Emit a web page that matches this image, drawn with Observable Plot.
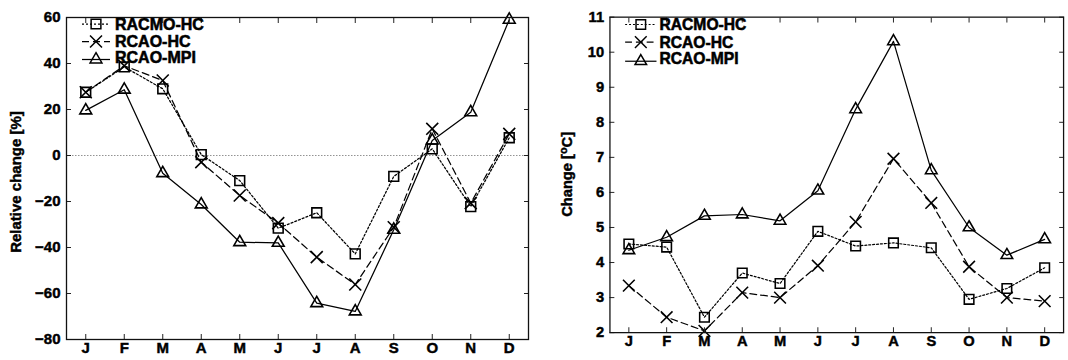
<!DOCTYPE html>
<html><head><meta charset="utf-8">
<script src="https://cdn.jsdelivr.net/npm/d3@7"></script>
<script src="https://cdn.jsdelivr.net/npm/@observablehq/plot@0.6"></script>
<style>
body{margin:0;background:#fff}
#wrap{position:relative;width:1068px;height:360px;overflow:hidden;background:#fff}
#left{position:absolute;left:0;top:0}
#right{position:absolute;left:534px;top:0}
#wrap text{stroke:#000;stroke-width:0.45px;font-weight:bold}
#wrap .legend text{stroke-width:0.55px}
</style></head><body>
<div id="wrap"><div id="left"></div><div id="right"></div></div>
<script>
// month labels
const months = ["J","F","M","A","M","J","J","A","S","O","N","D"];
const seriesNames = ["RACMO-HC","RCAO-HC","RCAO-MPI"];
// Relative precipitation change [%]
const racmoP   = [27.5, 38.5, 29.0,  0.4, -10.9, -31.6, -24.9, -42.8,  -9.1,  2.9, -22.2,  7.7];
const rcaoHcP  = [27.5, 39.0, 32.6, -2.9, -17.4, -29.4, -44.2, -56.1, -31.2, 11.6, -20.7,  9.4];
const rcaoMpiP = [19.6, 28.6, -7.7, -21.3, -37.7, -38.0, -64.2, -67.8, -32.3,  6.5,  18.8, 59.0];
// Temperature change [°C]
const racmoT   = [4.53, 4.44, 2.44, 3.70, 3.40, 4.89, 4.47, 4.56, 4.42, 2.95, 3.26, 3.85];
const rcaoHcT  = [3.34, 2.44, 2.05, 3.14, 3.00, 3.91, 5.16, 6.96, 5.70, 3.88, 3.00, 2.90];
const rcaoMpiT = [4.35, 4.72, 5.33, 5.37, 5.19, 6.05, 8.37, 10.31, 6.63, 5.00, 4.21, 4.66];
const yTicksP = [-80, -60, -40, -20, 0, 20, 40, 60];
const yTicksT = [2, 3, 4, 5, 6, 7, 8, 9, 10, 11];

const styles = [
  {symbol: "square",   r: 5.5, dash: "2,2"},
  {symbol: "times",    r: 5.5, dash: "7,4"},
  {symbol: "triangle", r: 4.4, dash: null}
];
const monthIdx = d3.range(1, 13);
const FONT = "'Liberation Sans', Arial, Helvetica, sans-serif";

function panel(el, {width, marginLeft, marginRight, yDomain, yTicks, values, zero, legend, ylabel}) {
  const data = values.flatMap((vals, k) => vals.map((v, i) => ({month: i + 1, value: v, k})));
  const marks = [];
  if (zero) marks.push(Plot.ruleY([0], {stroke: "#777", strokeWidth: 0.8, strokeDasharray: "1.5,1.5"}));
  values.forEach((vals, k) => {
    const d = data.filter(e => e.k === k);
    marks.push(Plot.line(d, {x: "month", y: "value", stroke: "black", strokeWidth: 1.25, strokeDasharray: styles[k].dash}));
    marks.push(Plot.dot(d, {x: "month", y: "value", symbol: styles[k].symbol, r: styles[k].r, stroke: "black", strokeWidth: 1.6, fill: "none"}));
  });
  marks.push(
    Plot.axisX({ticks: monthIdx, tickFormat: d => months[d - 1], tickSize: -5, tickPadding: 8, label: null, stroke: "#222", fontWeight: "bold", fontSize: 15}),
    Plot.axisX({anchor: "top", ticks: monthIdx, tickSize: -5, fill: "none", label: null, stroke: "#222"}),
    Plot.axisY({ticks: yTicks, tickSize: -5, tickPadding: 11, label: null, stroke: "#222", fontWeight: "bold", fontSize: 15}),
    Plot.axisY({anchor: "right", ticks: yTicks, tickSize: -5, fill: "none", label: null, stroke: "#222"}),
    Plot.frame({stroke: "#111", strokeWidth: 1.3})
  );
  const svg = Plot.plot({
    width, height: 360, marginLeft, marginRight, marginTop: 17, marginBottom: 21,
    x: {domain: [0.5, 12.5]},
    y: {domain: yDomain},
    style: {fontFamily: FONT, fontSize: "15px", fontWeight: "bold", color: "black", background: "white", overflow: "visible"},
    marks
  });
  el.appendChild(svg);
  const s = d3.select(svg);
  // legend
  const g = s.append("g").attr("class", "legend").attr("font-family", FONT).attr("font-size", 16).attr("font-weight", "bold").attr("text-anchor", "start");
  seriesNames.forEach((name, k) => {
    const y = legend.rows[k];
    const off = k === 2 ? 2.5 : 0;
    g.append("line").attr("x1", legend.x1).attr("x2", legend.x2).attr("y1", y + off).attr("y2", y + off)
      .attr("stroke", "black").attr("stroke-width", 1.25).attr("stroke-dasharray", styles[k].dash);
    const type = {square: d3.symbolSquare, times: d3.symbolTimes, triangle: d3.symbolTriangle}[styles[k].symbol];
    g.append("path").attr("d", d3.symbol(type, Math.PI * styles[k].r ** 2)())
      .attr("transform", `translate(${(legend.x1 + legend.x2) / 2},${y + off})`)
      .attr("fill", "none").attr("stroke", "black").attr("stroke-width", 1.5);
    g.append("text").attr("x", legend.tx).attr("y", y).attr("dy", "0.36em").attr("text-anchor", "start")
      .style("font-weight", "bold").style("font-size", "16px").style("font-family", FONT).text(name);
  });
  // y label
  const t = s.append("text").attr("font-family", FONT).attr("font-size", 15).attr("font-weight", "bold")
    .attr("text-anchor", "middle").attr("transform", `translate(${ylabel.x},${ylabel.y}) rotate(-90)`).attr("dy", "0.36em");
  ylabel.parts.forEach(p => {
    const ts = t.append("tspan").text(p.text);
    if (p.sup) ts.attr("dy", -5).attr("font-size", 11);
    if (p.after) ts.attr("dy", 5);
  });
}

panel(document.getElementById("left"), {
  width: 534, marginLeft: 66, marginRight: 6, yDomain: [-80, 60], yTicks: yTicksP,
  values: [racmoP, rcaoHcP, rcaoMpiP], zero: true,
  legend: {x1: 82, x2: 110, tx: 115, rows: [24, 41.5, 57]},
  ylabel: {x: 16, y: 182, parts: [{text: "Relative change [%]"}]}
});
panel(document.getElementById("right"), {
  width: 545, marginLeft: 77, marginRight: 5, yDomain: [2, 11], yTicks: yTicksT,
  values: [racmoT, rcaoHcT, rcaoMpiT], zero: false,
  legend: {x1: 93, x2: 125, tx: 128, rows: [25, 43, 60]},
  ylabel: {x: 33, y: 178, parts: [{text: "Change ["}, {text: "o", sup: true}, {text: "C]", after: true}]}
});
</script>
</body></html>
